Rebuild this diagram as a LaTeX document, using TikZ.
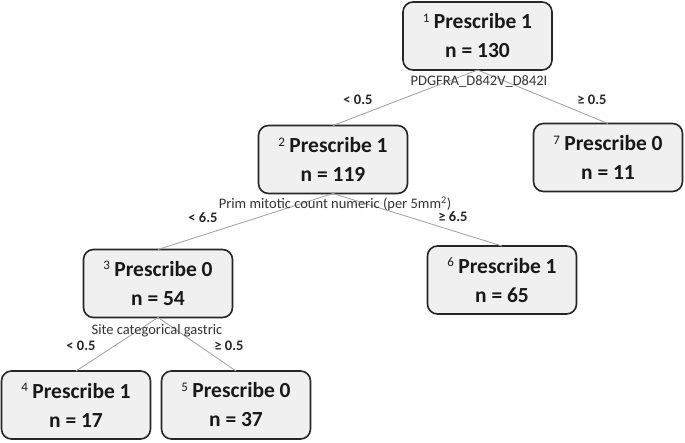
\documentclass[tikz,border=0pt]{standalone}
\usepackage{fontspec}
\setmainfont{Carlito}
\newcommand{\leafno}[1]{\raisebox{6.5pt}{\fontsize{13}{13}\selectfont\mdseries #1}\kern4.5pt}
\begin{document}
\begin{tikzpicture}[x=1pt,y=-1pt,
    every node/.style={inner sep=0pt,outer sep=0pt},
    splitbox/.style={draw=black!85,line width=1.6pt,rounded corners=10pt,fill=black!6,
        minimum width=149pt,minimum height=68pt,align=center,text=black!90,
        font=\bfseries\fontsize{21.5}{29}\selectfont},
    branch/.style={draw=black!35,line width=0.9pt},
    varname/.style={text=black!80,font=\fontsize{14.5}{15}\selectfont},
    cutoff/.style={text=black!85,font=\bfseries\fontsize{14.5}{15}\selectfont}]
        \useasboundingbox (0,0) rectangle (685,442);

        \node [splitbox] at (477.5,36) (N1) {\leafno{1}Prescribe 1\\n = 130};
        \node [splitbox] at (333,159.5) (N2) {\leafno{2}Prescribe 1\\n = 119};
        \node [splitbox] at (608,157.5) (N7) {\leafno{7}Prescribe 0\\n = 11};
        \node [splitbox] at (158,283.5) (N3) {\leafno{3}Prescribe 0\\n = 54};
        \node [splitbox] at (502,280) (N6) {\leafno{6}Prescribe 1\\n = 65};
        \node [splitbox] at (76,405) (N4) {\leafno{4}Prescribe 1\\n = 17};
        \node [splitbox] at (236,405) (N5) {\leafno{5}Prescribe 0\\n = 37};

        \draw [branch] (N1.south) -- (N2.north);
        \draw [branch] (N1.south) -- (N7.north);
        \draw [branch] (N2.south) -- (N3.north);
        \draw [branch] (N2.south) -- (N6.north);
        \draw [branch] (N3.south) -- (N4.north);
        \draw [branch] (N3.south) -- (N5.north);

        \node [varname] at (479,82) (V1) {PDGFRA\_D842V\_D842I};
        \node [cutoff] at (358,100) (L1) {< 0.5};
        \node [cutoff] at (592,100) (R1) {≥ 0.5};

        \node [varname] at (335,204) (V2) {Prim mitotic count numeric (per 5mm\textsuperscript{2})};
        \node [cutoff] at (203,218) (L2) {< 6.5};
        \node [cutoff] at (453,217) (R2) {≥ 6.5};

        \node [varname] at (157,331) (V3) {Site categorical gastric};
        \node [cutoff] at (81,346) (L3) {< 0.5};
        \node [cutoff] at (229,346) (R3) {≥ 0.5};
\end{tikzpicture}
\end{document}
